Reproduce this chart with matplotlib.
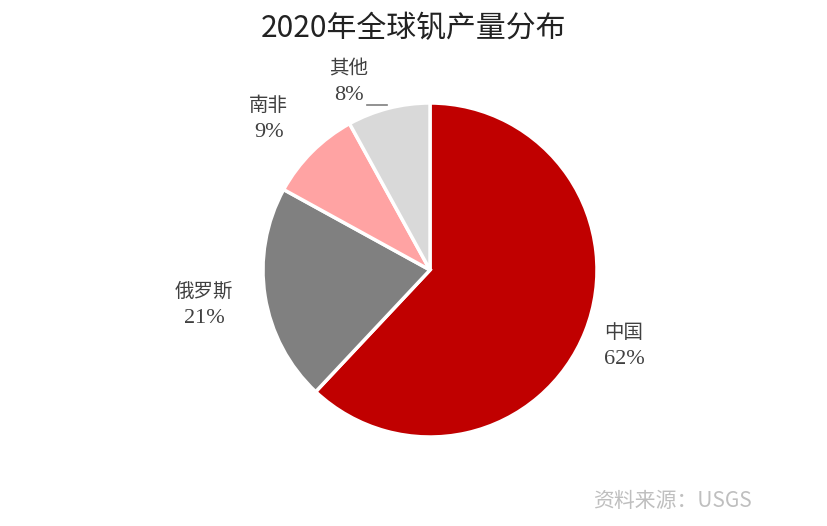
import numpy as np
import matplotlib
matplotlib.use('Agg')
import matplotlib.pyplot as plt

plt.rcParams['font.family'] = ['Noto Sans CJK SC', 'DejaVu Sans']

# 数据
countries = ['中国', '俄罗斯', '南非', '其他']
shares = [62, 21, 9, 8]
colors = ['#C00000', '#808080', '#FFA3A3', '#D9D9D9']
label_dist = [1.25, 1.37, 1.32, 1.22]
label_angle_shift = [0, 0, 2, 9]

fig = plt.figure(figsize=(8.27, 5.26), dpi=100)
r_px = 167
cx, cy = 430, 270
ax = fig.add_axes([(cx - r_px) / 827, (526 - cy - r_px) / 526,
                   2 * r_px / 827, 2 * r_px / 526])

wedges, _ = ax.pie(shares, colors=colors, startangle=90, counterclock=False,
                   radius=1.0, wedgeprops=dict(edgecolor='white', linewidth=2.5))
ax.set_xlim(-1, 1)
ax.set_ylim(-1, 1)
ax.axis('off')

for w, name, val, d, s in zip(wedges, countries, shares, label_dist, label_angle_shift):
    ang = np.deg2rad((w.theta1 + w.theta2) / 2 + s)
    x, y = d * np.cos(ang), d * np.sin(ang)
    spaced = '\u2009'.join(name)
    ax.text(x, y + 0.085, name, ha='center', va='center', fontsize=14,
            color='#404040', clip_on=False)
    ax.text(x, y - 0.075, f'{val}%', ha='center', va='center', fontsize=16,
            color='#404040', family=['Liberation Serif', 'DejaVu Sans'], clip_on=False)

# 其他 的引导线
w = wedges[3]
ang = np.deg2rad((w.theta1 + w.theta2) / 2)
ex, ey = 1.0 * np.cos(ang), 1.0 * np.sin(ang) + 0.02
ax.plot([ex - 0.13, ex - 0.01], [ey, ey], color='#7F7F7F', lw=1.2, clip_on=False)

fig.text(0.5, 0.945, '2020年全球钒产量分布', ha='center', va='center',
         fontsize=21.5, color='#222222')
fig.text(0.909, 0.048, '资料来源：USGS', ha='right', va='center',
         fontsize=15, color='#BFBFBF')

fig.savefig('out.png', dpi=100)
